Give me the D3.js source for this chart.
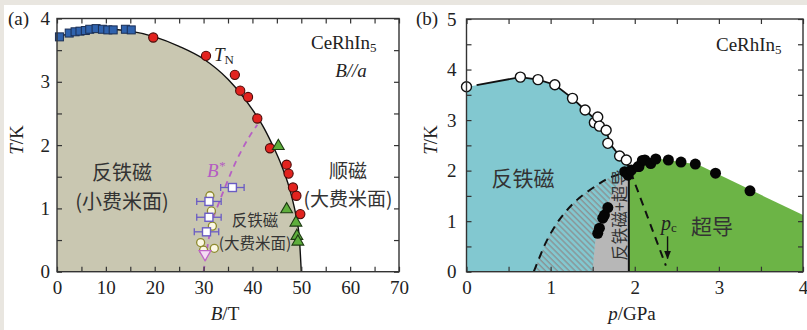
<!DOCTYPE html>
<html>
<head>
<meta charset="utf-8">
<script src="https://cdn.jsdelivr.net/npm/d3@7"></script>
<style>
  body { margin: 0; background: #fff; }
  svg text { font-family: "Liberation Serif", "Noto Sans CJK SC", serif; fill: #222; }
  .cjk { font-family: "Noto Sans CJK SC", sans-serif; fill: #333; }
</style>
</head>
<body>
<div id="chart"></div>
<script>
// ---------- panel (a): T vs B, B//a ----------
const sqB = [0.5, 2.5, 3.7, 4.7, 5.8, 6.7, 8.0, 9.3, 10.4, 11.5, 14.0, 15.2];
const sqT = [3.71, 3.77, 3.79, 3.80, 3.81, 3.83, 3.84, 3.83, 3.82, 3.82, 3.83, 3.82];
const redB = [19.7, 30.5, 36.4, 37.5, 39.1, 41.0, 43.6, 47.0, 47.4, 48.3, 49.0, 49.8];
const redT = [3.70, 3.41, 3.11, 2.86, 2.76, 2.42, 1.95, 1.69, 1.55, 1.33, 1.20, 0.91];
const triB = [45.3, 47.0, 48.9, 49.1, 49.3];
const triT = [2.00, 1.00, 0.79, 0.58, 0.49];
const tnCurveB = [0, 5, 10, 15, 20, 25, 30, 35, 40, 42, 44, 46, 48, 49, 49.6, 50];
const tnCurveT = [3.71, 3.80, 3.83, 3.80, 3.71, 3.56, 3.36, 3.04, 2.56, 2.32, 2.02, 1.67, 1.20, 0.85, 0.54, 0];
const bsSqB = [35.9, 31.1, 31.1, 30.6];
const bsSqT = [1.33, 1.11, 0.86, 0.63];
const bsSqErr = [2.4, 2.5, 2.5, 2.5];
const bsCircB = [31.3, 31.6, 31.8, 29.4, 32.2, 30.0];
const bsCircT = [1.20, 0.96, 0.72, 0.46, 0.37, 0.34];
const bsTriB = [30.3];
const bsTriT = [0.28];
const bsLineB = [30.0, 30.8, 31.8, 33.2, 35.0, 37.0, 39.5, 41.0];
const bsLineT = [0.0, 0.4, 0.8, 1.1, 1.45, 1.8, 2.15, 2.32];

// ---------- panel (b): T vs p ----------
const openP = [0, 0.64, 0.85, 1.05, 1.26, 1.41, 1.52, 1.56, 1.58, 1.66, 1.68, 1.82, 1.90];
const openT = [3.66, 3.85, 3.80, 3.70, 3.43, 3.20, 2.95, 3.06, 2.88, 2.80, 2.54, 2.29, 2.21];
const tnLineP = [0.12, 0.64, 0.85, 1.05, 1.26, 1.41, 1.55, 1.66, 1.72, 1.82, 1.93];
const tnLineT = [3.69, 3.85, 3.80, 3.70, 3.43, 3.20, 2.98, 2.78, 2.50, 2.29, 2.08];
const scP = [1.56, 1.58, 1.62, 1.64, 1.68, 1.88, 1.92, 1.92, 1.96, 2.04, 2.05, 2.09, 2.12, 2.19, 2.25, 2.40, 2.55, 2.72, 2.96, 3.37];
const scT = [0.76, 0.86, 1.06, 1.12, 1.27, 1.98, 1.95, 1.91, 2.01, 2.08, 2.08, 2.20, 2.21, 2.14, 2.23, 2.21, 2.17, 2.13, 1.95, 1.60];
const scEdgeP = [1.93, 2.0, 2.1, 2.3, 2.75, 4.0];
const scEdgeT = [2.02, 2.12, 2.20, 2.23, 2.12, 1.12];
const mixEdgeP = [1.50, 1.52, 1.55, 1.62, 1.70, 1.80, 1.90, 1.93];
const mixEdgeT = [0, 0.4, 0.8, 1.15, 1.42, 1.75, 1.97, 2.02];
const dashP = [0.80, 0.86, 0.95, 1.10, 1.30, 1.54, 1.70, 1.90];
const dashT = [0, 0.25, 0.60, 1.02, 1.40, 1.70, 1.86, 1.97];
const pcLineP = [1.95, 2.37];
const pcLineT = [1.98, 0.12];
const pBoundary = 1.93;
const pcArrowP = 2.39;
const pcArrowT = [0.70, 0.26];

const svg = d3.select("#chart").append("svg")
  .attr("width", 807).attr("height", 330);

svg.append("rect").attr("width", 807).attr("height", 330).attr("fill", "#e9e6e0");
svg.append("rect").attr("x", 4).attr("y", 5).attr("width", 803).attr("height", 325).attr("fill", "#fff");

const defs = svg.append("defs");
const pat = defs.append("pattern").attr("id", "hatch")
  .attr("patternUnits", "userSpaceOnUse").attr("width", 4.2).attr("height", 4.2)
  .attr("patternTransform", "rotate(-45)");
pat.append("line").attr("x1", 1).attr("y1", 0).attr("x2", 1).attr("y2", 4.2)
  .attr("stroke", "#8a9597").attr("stroke-width", 1.5);
defs.append("marker").attr("id", "arrow").attr("viewBox", "0 0 10 10")
  .attr("refX", 9).attr("refY", 5).attr("markerWidth", 6).attr("markerHeight", 6)
  .attr("orient", "auto")
  .append("path").attr("d", "M0,1 L10,5 L0,9 Z").attr("fill", "#111");

const zip = (a, b) => a.map((v, i) => [v, b[i]]);

// two-line label kept in one text element
function label2(x, y, size, lines, gap) {
  const t = svg.append("text").attr("class", "cjk").attr("text-anchor", "middle").attr("font-size", size);
  lines.forEach((s, i) => t.append("tspan").attr("x", x).attr("y", y + i * gap).text(s));
}

function drawFrame(x, y, xTicks, yTicks, xMajor, yMajor, yPad) {
  const [x0, x1] = x.range(), [y0, y1] = y.range();
  const fmtX = d => (Math.abs(d % xMajor) < 1e-9 ? d : "");
  const fmtY = d => (Math.abs(d % yMajor) < 1e-9 ? d : "");
  const tidy = g => { g.select(".domain").remove(); g.selectAll("line").attr("stroke", "#333").attr("stroke-width", 1.2);
    g.selectAll("text").attr("font-size", 19).attr("font-family", "Liberation Serif").attr("fill", "#222"); };
  svg.append("g").attr("transform", `translate(0,${y0})`)
    .call(d3.axisBottom(x).tickValues(xTicks).tickSizeInner(-5).tickSizeOuter(0).tickPadding(9).tickFormat(fmtX)).call(tidy);
  svg.append("g").attr("transform", `translate(0,${y1})`)
    .call(d3.axisTop(x).tickValues(xTicks).tickSizeInner(-5).tickSizeOuter(0).tickFormat("")).call(tidy);
  svg.append("g").attr("transform", `translate(${x0},0)`)
    .call(d3.axisLeft(y).tickValues(yTicks).tickSizeInner(-5).tickSizeOuter(0).tickPadding(yPad).tickFormat(fmtY)).call(tidy);
  svg.append("g").attr("transform", `translate(${x1},0)`)
    .call(d3.axisRight(y).tickValues(yTicks).tickSizeInner(-5).tickSizeOuter(0).tickFormat("")).call(tidy);
  svg.append("rect").attr("x", x0).attr("y", y1).attr("width", x1 - x0).attr("height", y0 - y1)
    .attr("fill", "none").attr("stroke", "#333").attr("stroke-width", 1.4);
}

// ================= panel (a) =================
const xA = d3.scaleLinear().domain([0, 70]).range([57, 399]);
const yA = d3.scaleLinear().domain([0, 4]).range([271.7, 18.5]);
const lineA = d3.line().x(d => xA(d[0])).y(d => yA(d[1])).curve(d3.curveMonotoneX);

const areaA = d3.area().x(d => xA(d[0])).y0(yA(0)).y1(d => yA(d[1])).curve(d3.curveMonotoneX);
svg.append("path").datum(zip(tnCurveB, tnCurveT)).attr("d", areaA).attr("fill", "#c9c7b1");
svg.append("path").datum(zip(tnCurveB, tnCurveT)).attr("d", lineA)
  .attr("fill", "none").attr("stroke", "#111").attr("stroke-width", 1.4);

svg.append("path").datum(zip(bsLineB, bsLineT))
  .attr("d", d3.line().x(d => xA(d[0])).y(d => yA(d[1])).curve(d3.curveCatmullRom))
  .attr("fill", "none").attr("stroke", "#b660c4").attr("stroke-width", 1.8).attr("stroke-dasharray", "6,5");

// error bars for B* squares
const eb = svg.append("g").attr("stroke", "#6a5cc4").attr("stroke-width", 1.3);
bsSqB.forEach((b, i) => {
  const yy = yA(bsSqT[i]);
  eb.append("line").attr("x1", xA(b - bsSqErr[i])).attr("x2", xA(b + bsSqErr[i])).attr("y1", yy).attr("y2", yy);
  [b - bsSqErr[i], b + bsSqErr[i]].forEach(e =>
    eb.append("line").attr("x1", xA(e)).attr("x2", xA(e)).attr("y1", yy - 3.5).attr("y2", yy + 3.5));
});

svg.append("g").selectAll("circle").data(zip(bsCircB, bsCircT)).join("circle")
  .attr("cx", d => xA(d[0])).attr("cy", d => yA(d[1])).attr("r", 4)
  .attr("fill", "#fbf8e4").attr("stroke", "#8e8a2e").attr("stroke-width", 1.3);
svg.append("g").selectAll("rect").data(zip(bsSqB, bsSqT)).join("rect")
  .attr("x", d => xA(d[0]) - 4).attr("y", d => yA(d[1]) - 4).attr("width", 8).attr("height", 8)
  .attr("fill", "#fff").attr("stroke", "#6a5cc4").attr("stroke-width", 1.4);
svg.append("g").selectAll("path").data(zip(bsTriB, bsTriT)).join("path")
  .attr("transform", d => `translate(${xA(d[0])},${yA(d[1])}) rotate(180)`)
  .attr("d", d3.symbol(d3.symbolTriangle, 60))
  .attr("fill", "#f4dcf2").attr("stroke", "#c064c8").attr("stroke-width", 1.3);

svg.append("g").selectAll("rect").data(zip(sqB, sqT)).join("rect")
  .attr("x", d => xA(d[0]) - 4).attr("y", d => yA(d[1]) - 4).attr("width", 8).attr("height", 8)
  .attr("fill", "#2f62ad").attr("stroke", "#1b2f55").attr("stroke-width", 1);
svg.append("g").selectAll("circle").data(zip(redB, redT)).join("circle")
  .attr("cx", d => xA(d[0])).attr("cy", d => yA(d[1])).attr("r", 4.6)
  .attr("fill", "#e2231f").attr("stroke", "#4a0a08").attr("stroke-width", 1.1);
svg.append("g").selectAll("path").data(zip(triB, triT)).join("path")
  .attr("transform", d => `translate(${xA(d[0])},${yA(d[1]) + 1})`)
  .attr("d", d3.symbol(d3.symbolTriangle, 60))
  .attr("fill", "#5eae3c").attr("stroke", "#1d3a12").attr("stroke-width", 1.1);

drawFrame(xA, yA, d3.range(0, 70.1, 5), d3.range(0, 4.01, 0.5), 10, 1, 7);

// text (a)
svg.append("text").attr("x", 8).attr("y", 25).attr("font-size", 19).text("(a)");
const tn = svg.append("text").attr("x", 214).attr("y", 61).attr("font-size", 19);
tn.append("tspan").attr("font-style", "italic").text("T");
tn.append("tspan").attr("font-size", 13).attr("dy", 3).text("N");
const ce = svg.append("text").attr("x", 311).attr("y", 49).attr("font-size", 19);
ce.append("tspan").text("CeRhIn");
ce.append("tspan").attr("font-size", 13).attr("dy", 3).text("5");
svg.append("text").attr("x", 351).attr("y", 77).attr("text-anchor", "middle")
  .attr("font-size", 19).attr("font-style", "italic").text("B//a");
const bs = svg.append("text").attr("x", 207).attr("y", 177).attr("font-size", 19)
  .attr("font-style", "italic").style("fill", "#b45cc2");
bs.append("tspan").text("B");
bs.append("tspan").attr("font-size", 13).attr("dy", -7).text("*");

label2(122, 180, 20, ["反铁磁", "(小费米面)"], 29);
label2(348, 178, 19, ["顺磁", "(大费米面)"], 28);
label2(255, 226, 15.5, ["反铁磁", "(大费米面)"], 23);

const bl = svg.append("text").attr("x", 225).attr("y", 320).attr("text-anchor", "middle").attr("font-size", 19);
bl.append("tspan").attr("font-style", "italic").text("B");
bl.append("tspan").text("/T");
const tl = svg.append("text").attr("transform", "translate(23,140) rotate(-90)").attr("text-anchor", "middle").attr("font-size", 19);
tl.append("tspan").attr("font-style", "italic").text("T");
tl.append("tspan").text("/K");

// ================= panel (b) =================
const xB = d3.scaleLinear().domain([0, 4]).range([466.5, 803]);
const yB = d3.scaleLinear().domain([0, 5]).range([271.7, 19]);
const lineB = d3.line().x(d => xB(d[0])).y(d => yB(d[1]));
const smoothB = d3.line().x(d => xB(d[0])).y(d => yB(d[1])).curve(d3.curveCatmullRom);

// AFM region (blue)
const afm = [[0, 0], [0, openT[0]]].concat(zip(tnLineP, tnLineT), [[pBoundary, 0]]);
svg.append("path").attr("d", lineB(afm) + "Z").attr("fill", "#82c8d0");
// hatched region between dashed line and mixed region
const hatchPts = zip(dashP, dashT).concat(zip(mixEdgeP, mixEdgeT).reverse());
svg.append("path").attr("d", smoothB(hatchPts) + "Z").attr("fill", "url(#hatch)");
// AFM + SC region (gray)
const mix = zip(mixEdgeP, mixEdgeT).concat([[pBoundary, 0]]);
svg.append("path").attr("d", smoothB(mix) + "Z").attr("fill", "#b7b7b7");
// SC region (green)
const sc = [[pBoundary, 0]].concat(zip(scEdgeP, scEdgeT), [[4, 0]]);
svg.append("path").attr("d", lineB(sc) + "Z").attr("fill", "#6cb446");

svg.append("line").attr("x1", xB(pBoundary)).attr("x2", xB(pBoundary)).attr("y1", yB(0)).attr("y2", yB(2.02))
  .attr("stroke", "#111").attr("stroke-width", 2);
svg.append("path").attr("d", smoothB(zip(dashP, dashT)))
  .attr("fill", "none").attr("stroke", "#111").attr("stroke-width", 2).attr("stroke-dasharray", "8,6");
svg.append("path").attr("d", lineB(zip(pcLineP, pcLineT)))
  .attr("fill", "none").attr("stroke", "#111").attr("stroke-width", 2).attr("stroke-dasharray", "8,6");
svg.append("path").attr("d", lineB(zip(tnLineP, tnLineT)))
  .attr("fill", "none").attr("stroke", "#111").attr("stroke-width", 1.8);

svg.append("text").attr("class", "cjk").attr("transform", "translate(626,215) rotate(-90)")
  .attr("text-anchor", "middle").attr("font-size", 16.5).text("反铁磁+超导");

svg.append("g").selectAll("circle").data(zip(openP, openT)).join("circle")
  .attr("cx", d => xB(d[0])).attr("cy", d => yB(d[1])).attr("r", 5)
  .attr("fill", "#fff").attr("stroke", "#111").attr("stroke-width", 1.4);
svg.append("g").selectAll("circle").data(zip(scP, scT)).join("circle")
  .attr("cx", d => xB(d[0])).attr("cy", d => yB(d[1])).attr("r", 5.5).attr("fill", "#050505");

svg.append("line").attr("x1", xB(pcArrowP)).attr("x2", xB(pcArrowP))
  .attr("y1", yB(pcArrowT[0])).attr("y2", yB(pcArrowT[1]))
  .attr("stroke", "#111").attr("stroke-width", 1.4).attr("marker-end", "url(#arrow)");

drawFrame(xB, yB, d3.range(0, 4.01, 0.5), d3.range(0, 5.01, 0.5), 1, 1, 10);

svg.append("text").attr("x", 416).attr("y", 25).attr("font-size", 19).text("(b)");
const ce2 = svg.append("text").attr("x", 716).attr("y", 51).attr("font-size", 19);
ce2.append("tspan").text("CeRhIn");
ce2.append("tspan").attr("font-size", 13).attr("dy", 3).text("5");
svg.append("text").attr("class", "cjk").attr("x", 523).attr("y", 186).attr("text-anchor", "middle").attr("font-size", 21).text("反铁磁");
svg.append("text").attr("class", "cjk").attr("x", 712).attr("y", 234).attr("text-anchor", "middle").attr("font-size", 21).text("超导");
const pc = svg.append("text").attr("x", 661).attr("y", 230).attr("font-size", 20);
pc.append("tspan").attr("font-style", "italic").text("p");
pc.append("tspan").attr("font-size", 13).attr("dy", 2).text("c");

const pl = svg.append("text").attr("x", 632).attr("y", 320).attr("text-anchor", "middle").attr("font-size", 19);
pl.append("tspan").attr("font-style", "italic").text("p");
pl.append("tspan").text("/GPa");
const tl2 = svg.append("text").attr("transform", "translate(437,140) rotate(-90)").attr("text-anchor", "middle").attr("font-size", 19);
tl2.append("tspan").attr("font-style", "italic").text("T");
tl2.append("tspan").text("/K");
</script>
</body>
</html>
